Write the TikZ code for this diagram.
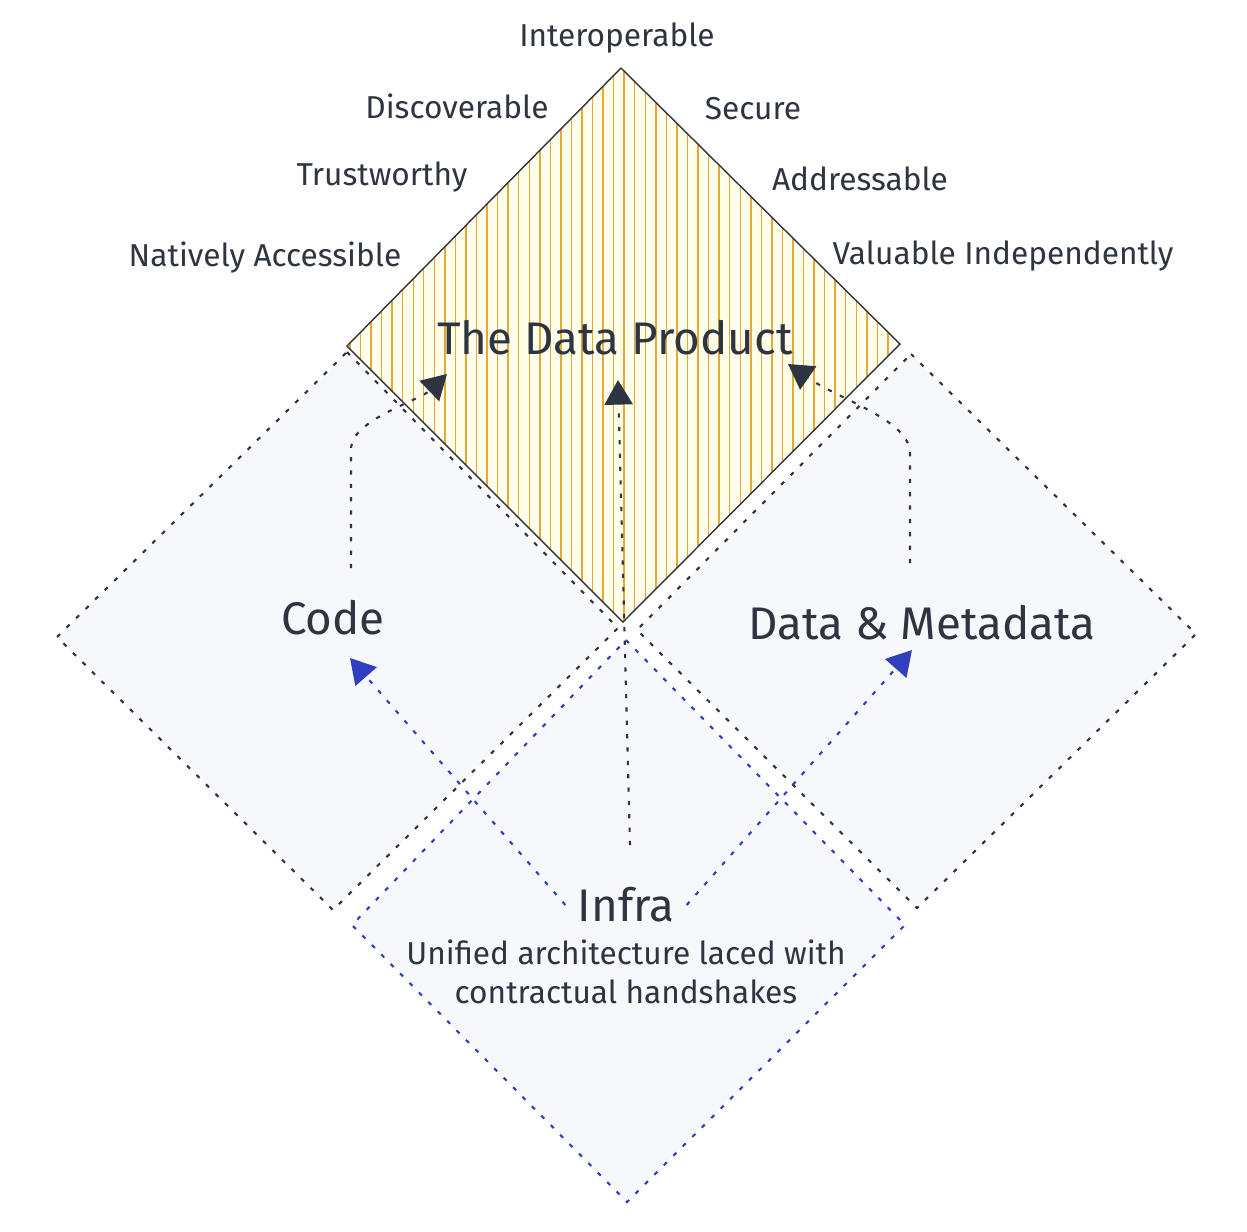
\documentclass[tikz,border=0pt]{standalone}
\usepackage{fontspec}
\setmainfont{Fira Sans}
\usetikzlibrary{positioning}
\usetikzlibrary{patterns}
\usetikzlibrary{arrows.meta}

\definecolor{ink}{HTML}{2E3440}
\definecolor{hatch}{HTML}{E8A838}
\definecolor{paleblue}{HTML}{F6F8FC}
\definecolor{linkblue}{HTML}{2F3FC0}

\tikzset{
  quality/.style={font=\fontsize{9}{11}\selectfont, text=ink},
  part/.style={font=\fontsize{13}{16}\selectfont, text=ink},
  sidebox/.style={draw=ink, dash pattern=on 1.2pt off 2.6pt, line width=0.6pt, fill=paleblue},
  flow/.style={draw=ink, dash pattern=on 1.2pt off 2.6pt, line width=0.6pt, -{Triangle[length=7pt,width=8pt]}},
  bluelink/.style={draw=linkblue, dash pattern=on 1.2pt off 2.6pt, line width=0.6pt, -{Triangle[length=7pt,width=8pt]}, color=linkblue},
}

\begin{document}
\begin{tikzpicture}[x=0.01cm, y=-0.01cm]

\useasboundingbox (0,0) rectangle (1247,1232);

% the three supporting diamonds
\draw[sidebox] (347,352)--(618,628)--(333,910)--(57,637)--cycle;
\draw[sidebox] (911,354)--(1196,634)--(917,908)--(637,630)--cycle;
\draw[sidebox, draw=linkblue] (626,640)--(905,925)--(627,1202)--(352,925)--cycle;

% the product
\fill[yellow!8] (621,68)--(900,344)--(623,622)--(347,346)--cycle;
\fill[pattern=vertical lines, pattern color=hatch] (621,68)--(900,344)--(623,622)--(347,346)--cycle;
\draw[ink, thin] (621,68)--(900,344)--(623,622)--(347,346)--cycle;

\node[part] (product) at (615,338) {The Data Product};
\node[part] (code) at (333,618) {Code};
\node[part] (data) at (922,623) {Data \& Metadata};
\node[part] (infra) at (626,905) {Infra};
\node[quality, align=center, below=-2pt of infra] (infratext) {Unified architecture laced with\\contractual handshakes};

% qualities
\node[quality] (interop) at (617,38) {Interoperable};
\node[quality] (discover) at (457,106) {Discoverable};
\node[quality] (trust) at (382,177) {Trustworthy};
\node[quality] (native) at (265,258) {Natively Accessible};
\node[quality] (secure) at (753,109) {Secure};
\node[quality] (address) at (860,179) {Addressable};
\node[quality] (valuable) at (1003,256) {Valuable Independently};

% connectors
\coordinate (codetip) at (447,374);
\coordinate (datatip) at (788,364);
\coordinate (midtip) at (618,380);
\draw[flow] (code.north) ++(18,-20) -- ++(0,-120) .. controls (352,420) and (420,400) .. (codetip);
\draw[flow] (data.north) ++(-12,-30) -- ++(0,-110) .. controls (910,420) and (840,400) .. (datatip);
\draw[flow] (infra.north) ++(4,-30) -- (midtip);
\draw[bluelink] (infra.west) -- (350,658);
\draw[bluelink] (infra.east) -- (912,650);

\end{tikzpicture}
\end{document}
